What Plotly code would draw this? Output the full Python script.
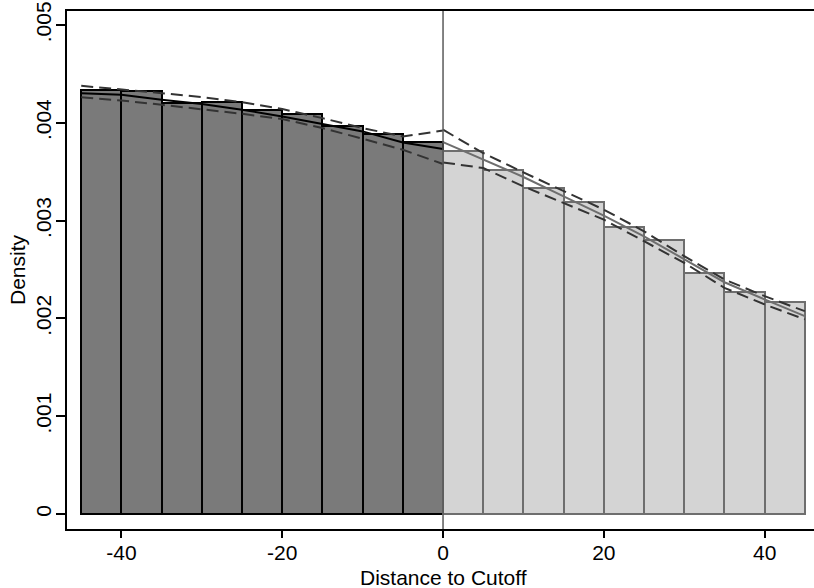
import plotly.graph_objects as go

# ---- data ----
bins_left = [-42.5, -37.5, -32.5, -27.5, -22.5, -17.5, -12.5, -7.5, -2.5]
dens_left = [0.004337, 0.004327, 0.004207, 0.004214, 0.004133, 0.004092, 0.003963, 0.003884, 0.003806]
bins_right = [2.5, 7.5, 12.5, 17.5, 22.5, 27.5, 32.5, 37.5, 42.5]
dens_right = [0.003707, 0.003520, 0.003330, 0.003187, 0.002935, 0.002803, 0.002469, 0.002272, 0.002166]
bin_width = 5

grid_left = [-45, -40, -35, -30, -25, -20, -15, -10, -5, 0]
fit_left = [0.004303, 0.004286, 0.004235, 0.004191, 0.004133, 0.004065, 0.003987, 0.003912, 0.003799, 0.003731]
ci_hi_left = [0.004378, 0.004344, 0.004303, 0.004262, 0.004211, 0.004140, 0.004048, 0.003946, 0.003860, 0.003921]
ci_lo_left = [0.004262, 0.004228, 0.004184, 0.004140, 0.004092, 0.004038, 0.003946, 0.003837, 0.003724, 0.003579]

grid_right = [0, 5, 10, 15, 20, 25, 30, 35, 40, 45]
fit_right = [0.003803, 0.003622, 0.003446, 0.003248, 0.003051, 0.002840, 0.002602, 0.002370, 0.002194, 0.002024]
ci_hi_right = [0.003929, 0.003691, 0.003493, 0.003299, 0.003112, 0.002891, 0.002636, 0.002398, 0.002228, 0.002074]
ci_lo_right = [0.003595, 0.003537, 0.003350, 0.003181, 0.003010, 0.002789, 0.002568, 0.002313, 0.002143, 0.001990]

x_ticks = [-40, -20, 0, 20, 40]
x_ticklabels = ["-40", "-20", "0", "20", "40"]
y_ticks = [0, 0.001, 0.002, 0.003, 0.004, 0.005]
y_ticklabels = ["0", ".001", ".002", ".003", ".004", ".005"]
x_title = "Distance to Cutoff"
y_title = "Density"

FONT = "Liberation Sans, Arial, sans-serif"
FS = 21
DASH = "12px,6px"

fig = go.Figure()
fig.add_trace(go.Bar(x=bins_left, y=dens_left, width=bin_width,
                     marker=dict(color="#7a7a7a", line=dict(color="#000000", width=2)),
                     showlegend=False))
fig.add_trace(go.Bar(x=bins_right, y=dens_right, width=bin_width,
                     marker=dict(color="#d4d4d4", line=dict(color="#6e6e6e", width=2)),
                     showlegend=False))

for xs, ys, col, dash in [
    (grid_left, ci_hi_left, "#333333", DASH),
    (grid_left, ci_lo_left, "#333333", DASH),
    (grid_left, fit_left, "#000000", "solid"),
    (grid_right, ci_hi_right, "#333333", DASH),
    (grid_right, ci_lo_right, "#333333", DASH),
    (grid_right, fit_right, "#6e6e6e", "solid"),
]:
    fig.add_trace(go.Scatter(x=xs, y=ys, mode="lines",
                             line=dict(color=col, width=2, dash=dash),
                             showlegend=False))

fig.add_shape(type="line", xref="x", yref="paper", x0=0, x1=0, y0=0, y1=1,
              line=dict(color="#5a5a5a", width=1.5))

PLOT_H = 588 - 11 - 59
fig.add_annotation(text=x_title, xref="x", yref="paper", x=0, y=-(577 - 529) / PLOT_H,
                   xanchor="center", yanchor="middle", showarrow=False,
                   font=dict(family=FONT, size=FS, color="#000"))

fig.update_layout(
    width=814, height=588,
    margin=dict(l=67, r=0, t=11, b=59),
    paper_bgcolor="white", plot_bgcolor="white",
    barmode="overlay", bargap=0,
    font=dict(family=FONT, size=FS, color="#000000"),
    xaxis=dict(range=[-46.77, 46.14], tickvals=x_ticks, ticktext=x_ticklabels,
               ticks="outside", ticklen=7, tickwidth=1.5, tickcolor="#000",
               showline=True, linecolor="#000", linewidth=2, mirror=True,
               showgrid=False, zeroline=False, ticklabelstandoff=-3,
               tickfont=dict(size=FS)),
    yaxis=dict(range=[-0.000153, 0.005143], tickvals=y_ticks, ticktext=y_ticklabels,
               ticks="outside", ticklen=9, tickwidth=1.5, tickcolor="#000",
               showline=True, linecolor="#000", linewidth=2, showgrid=False,
               zeroline=False, tickangle=-90, ticklabelstandoff=-3,
               title=dict(text=y_title, font=dict(size=FS), standoff=0),
               tickfont=dict(size=FS)),
)

fig.write_html("out.html")
